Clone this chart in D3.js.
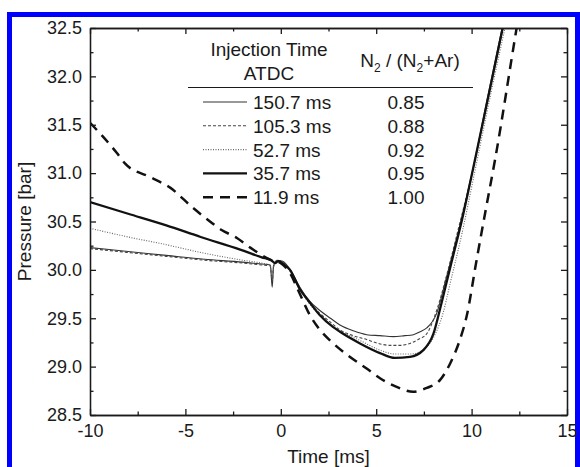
<!DOCTYPE html>
<html>
<head>
<meta charset="utf-8">
<script src="https://cdn.jsdelivr.net/npm/d3@7"></script>
<style>
  body { margin: 0; background: #fff; }
  svg text { font-family: "Liberation Sans", Arial, sans-serif; fill: #1a1a1a; }
  .axis path, .axis line { stroke: #1a1a1a; stroke-width: 1.3; }
</style>
</head>
<body>
<svg id="chart" width="580" height="467"></svg>
<script>
// ticks
var xTicks = [-10, -5, 0, 5, 10, 15];
var xMinor = [-7.5, -2.5, 2.5, 7.5, 12.5];
var yTicks = [28.5, 29.0, 29.5, 30.0, 30.5, 31.0, 31.5, 32.0, 32.5];
var yMinor = [28.75, 29.25, 29.75, 30.25, 30.75, 31.25, 31.75, 32.25];

// legend rows
var injTimes = ["150.7 ms", "105.3 ms", "52.7 ms", "35.7 ms", "11.9 ms"];
var ratios = ["0.85", "0.88", "0.92", "0.95", "1.00"];

// series: time [ms] and pressure [bar]
var t1 = [-10, -8, -6, -4, -2, -1, -0.55, -0.45, -0.38, -0.2, 0.1, 0.5, 1.0, 1.5, 2.05, 2.6, 3.1, 3.8, 4.5, 5.2, 5.9, 6.5, 6.95, 7.3, 7.65, 8.17, 8.6, 9.0, 9.5, 10.06, 10.8, 11.6, 12.0];
var p1 = [30.23, 30.19, 30.15, 30.11, 30.08, 30.06, 30.05, 29.82, 30.04, 30.10, 30.09, 30.0, 29.82, 29.68, 29.58, 29.50, 29.43, 29.37, 29.33, 29.32, 29.31, 29.32, 29.33, 29.36, 29.40, 29.55, 29.86, 30.16, 30.55, 31.03, 31.75, 32.5, 32.88];

var t2 = [-10, -8, -6, -4, -2, -1, -0.55, -0.45, -0.38, -0.2, 0.1, 0.5, 1.0, 1.5, 2.05, 2.6, 3.1, 3.8, 4.5, 5.1, 5.72, 6.3, 6.77, 7.2, 7.65, 8.2, 8.7, 9.3, 10.1, 10.9, 11.65, 12.0];
var p2 = [30.22, 30.18, 30.14, 30.10, 30.07, 30.05, 30.04, 29.88, 30.03, 30.09, 30.08, 29.99, 29.81, 29.66, 29.55, 29.46, 29.38, 29.32, 29.28, 29.24, 29.22, 29.22, 29.24, 29.28, 29.34, 29.6, 29.95, 30.42, 31.06, 31.8, 32.5, 32.82];

var t3 = [-10, -8, -6, -4.2, -2, -1, -0.55, -0.45, -0.38, -0.2, 0.1, 0.5, 1.0, 1.5, 2.05, 2.7, 3.3, 4.15, 5.2, 6.0, 6.8, 7.5, 8.0, 8.5, 8.9, 9.5, 10.1, 10.9, 11.75, 12.2];
var p3 = [30.43, 30.34, 30.26, 30.18, 30.10, 30.07, 30.05, 29.92, 30.04, 30.08, 30.07, 29.98, 29.80, 29.65, 29.53, 29.42, 29.35, 29.27, 29.17, 29.13, 29.13, 29.18, 29.30, 29.55, 29.88, 30.38, 30.95, 31.72, 32.5, 32.9];

var t4 = [-10, -8, -6, -4.2, -2.13, -1, -0.5, -0.3, -0.13, 0.2, 0.48, 1.0, 1.53, 2.05, 2.73, 3.1, 4.15, 5.2, 5.98, 6.77, 7.47, 8.0, 8.34, 8.6, 9.0, 9.5, 10.06, 10.8, 11.63, 12.0];
var p4 = [30.70, 30.58, 30.46, 30.34, 30.21, 30.13, 30.10, 30.07, 30.09, 30.05, 30.0, 29.80, 29.66, 29.53, 29.41, 29.36, 29.24, 29.14, 29.09, 29.10, 29.17, 29.34, 29.59, 29.80, 30.12, 30.52, 31.03, 31.72, 32.5, 32.85];

var t5 = [-10, -9.47, -8.6, -8.17, -6.86, -5.8, -4.6, -3.97, -3.08, -2.3, -1.6, -0.5, 0, 0.5, 1.0, 1.53, 2.05, 2.75, 3.63, 4.5, 5.2, 6.07, 6.94, 7.65, 8.34, 8.87, 9.39, 9.74, 10.26, 10.74, 11.23, 12.36, 12.7];
var p5 = [31.52, 31.41, 31.21, 31.10, 30.96, 30.85, 30.64, 30.54, 30.41, 30.33, 30.23, 30.1, 30.07, 29.96, 29.75, 29.53, 29.38, 29.24, 29.10, 28.98, 28.88, 28.79, 28.74, 28.78, 28.86, 29.03, 29.28, 29.52, 30.10, 30.62, 31.14, 32.5, 32.9];

var series = [
  { t: t1, p: p1, width: 1.1, dash: null, color: "#333" },
  { t: t2, p: p2, width: 1.1, dash: "3,2", color: "#444" },
  { t: t3, p: p3, width: 1.1, dash: "1,1.5", color: "#666" },
  { t: t4, p: p4, width: 2.3, dash: null, color: "#111" },
  { t: t5, p: p5, width: 2.5, dash: "10,7", color: "#111" }
];

var svg = d3.select("#chart");

// blue frame
svg.append("rect")
  .attr("x", 9.5).attr("y", 14.5)
  .attr("width", 568).attr("height", 470)
  .attr("fill", "#fff")
  .attr("stroke", "#0000ff")
  .attr("stroke-width", 5);

var margin = { left: 90, top: 28, right: 13, bottom: 52 };
var width = 580 - margin.left - margin.right,
    height = 467 - margin.top - margin.bottom;

var x = d3.scaleLinear().domain([-10, 15]).range([0, width]);
var y = d3.scaleLinear().domain([28.5, 32.5]).range([height, 0]);

var g = svg.append("g").attr("transform", "translate(" + margin.left + "," + margin.top + ")");

g.append("clipPath").attr("id", "clip")
  .append("rect").attr("width", width).attr("height", height);

// curves
var line = d3.line()
  .x(function(d) { return x(d[0]); })
  .y(function(d) { return y(d[1]); })
  .curve(d3.curveMonotoneX);

series.forEach(function(s) {
  var pts = s.t.map(function(v, i) { return [v, s.p[i]]; });
  g.append("path")
    .datum(pts)
    .attr("clip-path", "url(#clip)")
    .attr("fill", "none")
    .attr("stroke", s.color)
    .attr("stroke-width", s.width)
    .attr("stroke-dasharray", s.dash)
    .attr("d", line);
});

// axes, ticks pointing inward
g.append("g").attr("class", "axis")
  .attr("transform", "translate(0," + height + ")")
  .call(d3.axisBottom(x).tickValues(xTicks).tickSize(-6).tickSizeOuter(0).tickPadding(9)
    .tickFormat(function(d) { return String(d); }))
  .selectAll("text").style("font-size", "18px");
g.append("g").attr("class", "axis")
  .attr("transform", "translate(0," + height + ")")
  .call(d3.axisBottom(x).tickValues(xMinor).tickSize(-3.5).tickSizeOuter(0).tickFormat(""));

g.append("g").attr("class", "axis")
  .call(d3.axisLeft(y).tickValues(yTicks).tickSize(-6).tickSizeOuter(0).tickPadding(8)
    .tickFormat(function(d) { return d.toFixed(1); }))
  .selectAll("text").style("font-size", "18px");
g.append("g").attr("class", "axis")
  .call(d3.axisLeft(y).tickValues(yMinor).tickSize(-3.5).tickSizeOuter(0).tickFormat(""));

g.append("g").attr("class", "axis")
  .call(d3.axisTop(x).tickValues(xTicks).tickSize(-6).tickSizeOuter(0).tickFormat(""));
g.append("g").attr("class", "axis")
  .call(d3.axisTop(x).tickValues(xMinor).tickSize(-3.5).tickSizeOuter(0).tickFormat(""));

g.append("g").attr("class", "axis")
  .attr("transform", "translate(" + width + ",0)")
  .call(d3.axisRight(y).tickValues(yTicks).tickSize(-6).tickSizeOuter(0).tickFormat(""));
g.append("g").attr("class", "axis")
  .attr("transform", "translate(" + width + ",0)")
  .call(d3.axisRight(y).tickValues(yMinor).tickSize(-3.5).tickSizeOuter(0).tickFormat(""));

// axis titles
svg.append("text")
  .attr("x", margin.left + width / 2).attr("y", 463)
  .attr("text-anchor", "middle")
  .style("font-size", "19px")
  .text("Time [ms]");

svg.append("text")
  .attr("transform", "translate(31," + (margin.top + height / 2) + ") rotate(-90)")
  .attr("text-anchor", "middle")
  .style("font-size", "19px")
  .text("Pressure [bar]");

// legend table
var leg = svg.append("g");
leg.append("text").attr("x", 269).attr("y", 56).attr("text-anchor", "middle")
  .style("font-size", "19px").text("Injection Time");
leg.append("text").attr("x", 269).attr("y", 80).attr("text-anchor", "middle")
  .style("font-size", "19px").text("ATDC");

var hdr = leg.append("text").attr("x", 410).attr("y", 67).attr("text-anchor", "middle")
  .style("font-size", "19px");
hdr.append("tspan").text("N");
hdr.append("tspan").attr("dy", 5).style("font-size", "12px").text("2");
hdr.append("tspan").attr("dy", -5).text(" / (N");
hdr.append("tspan").attr("dy", 5).style("font-size", "12px").text("2");
hdr.append("tspan").attr("dy", -5).text("+Ar)");

leg.append("line")
  .attr("x1", 188).attr("x2", 473).attr("y1", 87.5).attr("y2", 87.5)
  .attr("stroke", "#1a1a1a").attr("stroke-width", 1.2);

injTimes.forEach(function(label, i) {
  var cy = 102 + i * 23.8;
  var s = series[i];
  leg.append("line")
    .attr("x1", 203).attr("x2", 247).attr("y1", cy).attr("y2", cy)
    .attr("stroke", s.color)
    .attr("stroke-width", s.width)
    .attr("stroke-dasharray", s.dash);
  leg.append("text").attr("x", 253).attr("y", cy + 7)
    .style("font-size", "19px").text(label);
  leg.append("text").attr("x", 406).attr("y", cy + 7).attr("text-anchor", "middle")
    .style("font-size", "19px").text(ratios[i]);
});
</script>
</body>
</html>
